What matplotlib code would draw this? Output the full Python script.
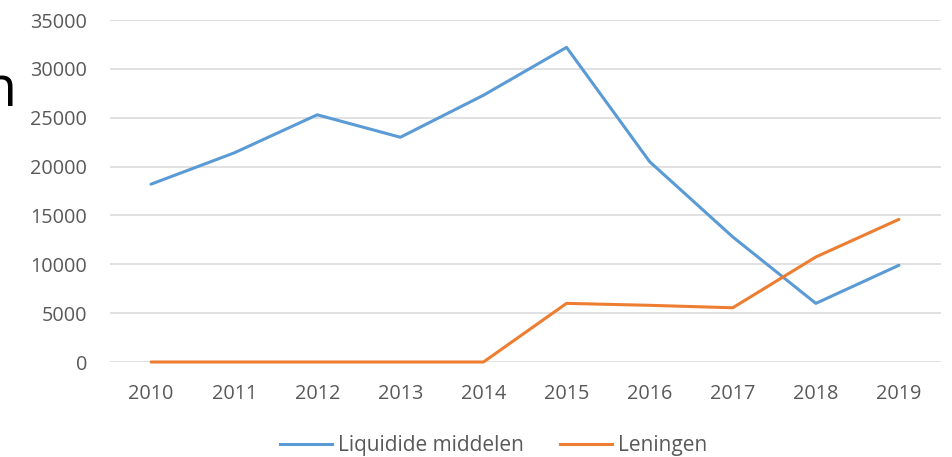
import matplotlib
matplotlib.use("Agg")
from matplotlib import pyplot as plt
from matplotlib.lines import Line2D

# data
years = ["2010", "2011", "2012", "2013", "2014", "2015", "2016", "2017", "2018", "2019"]
liquide = [18200, 21400, 25300, 23000, 27300, 32200, 20500, 12800, 6000, 9900]
leningen = [0, 0, 0, 0, 0, 6000, 5800, 5550, 10750, 14600]
yticks = [0, 5000, 10000, 15000, 20000, 25000, 30000, 35000]

blue = "#5B9BD5"
orange = "#ED7D31"
grey = "#595959"

plt.rcParams["font.family"] = ["Open Sans", "DejaVu Sans"]

W, H = 952, 457
fig = plt.figure(figsize=(W / 100, H / 100), dpi=100)
ax = fig.add_axes([109.5 / W, 95 / H, 831 / W, 342 / H])

x = list(range(len(years)))
ax.plot(x, liquide, color=blue, lw=2.2, solid_capstyle="round", zorder=3, clip_on=False)
ax.plot(x, leningen, color=orange, lw=2.2, solid_capstyle="round", zorder=3, clip_on=False)

ax.set_xlim(-0.5, len(years) - 0.5)
ax.set_ylim(0, 35000)
ax.set_yticks(yticks)
ax.set_yticklabels([str(v) for v in yticks])
ax.set_xticks(x)
ax.set_xticklabels(years)
ax.tick_params(axis="both", length=0, labelsize=14.3, labelcolor=grey)
ax.tick_params(axis="y", pad=16)
ax.tick_params(axis="x", pad=16)

ax.grid(axis="y", color="#D9D9D9", lw=1.1)
ax.set_axisbelow(True)
for s in ax.spines.values():
    s.set_visible(False)

# legend below the plot
handles = [Line2D([0], [0], color=blue, lw=2.2),
           Line2D([0], [0], color=orange, lw=2.2)]
fig.legend(handles, ["Liquidide middelen", "Leningen"], loc="center",
           bbox_to_anchor=(493.5 / W, 1 - 446 / H), ncol=2, frameon=False,
           fontsize=15, labelcolor=grey, handlelength=2.5, handletextpad=0.3,
           columnspacing=1.7)

# leftover of a cut-off slide title
fig.text(16 / W, 1 - 106 / H, "n", fontsize=40, ha="right", va="baseline",
         color="black")

fig.savefig("out.png", dpi=100)
